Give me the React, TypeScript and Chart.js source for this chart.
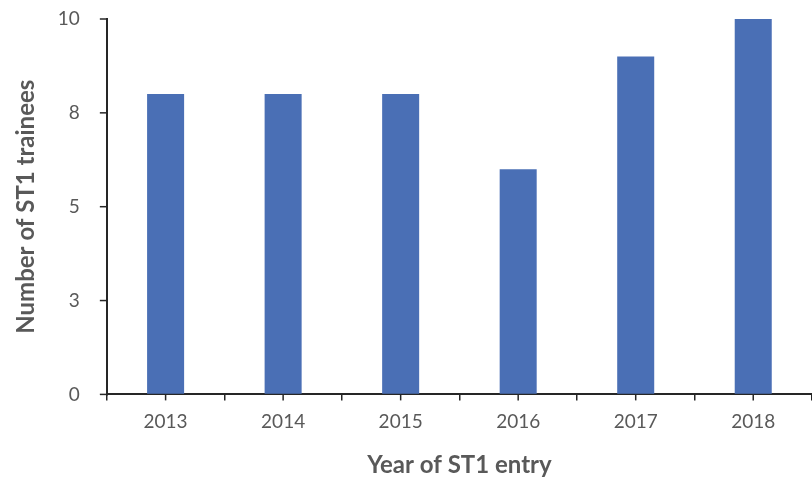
import React, { useEffect, useRef } from "react";
import { Chart, registerables } from "chart.js";

Chart.register(...registerables);

const categories = ["2013", "2014", "2015", "2016", "2017", "2018"];
const trainees = [8, 8, 8, 6, 9, 10];
const yMin = 0;
const yMax = 10;
const yStep = 2.5;

const axisColor = "#262626";
const textColor = "#595959";
const barColor = "#4a6fb5";
const fontFamily = "Lato, 'Open Sans', sans-serif";

const extraTicks = {
  id: "extraTicks",
  afterDraw(chart: any) {
    const x = chart.scales.x;
    const y = chart.scales.y;
    const ctx = chart.ctx;
    ctx.save();
    ctx.strokeStyle = axisColor;
    ctx.lineWidth = 1.5;
    // x-axis ticks at category centres
    for (let i = 0; i < categories.length; i++) {
      const px = x.getPixelForValue(i);
      ctx.beginPath();
      ctx.moveTo(px, x.top);
      ctx.lineTo(px, x.top + 6);
      ctx.stroke();
    }
    // y-axis outward tick marks
    for (const t of y.ticks) {
      const py = y.getPixelForValue(t.value);
      ctx.beginPath();
      ctx.moveTo(y.right - 7, py);
      ctx.lineTo(y.right, py);
      ctx.stroke();
    }
    ctx.restore();
  },
};

export default function App() {
  const ref = useRef<HTMLCanvasElement | null>(null);
  useEffect(() => {
    if (!ref.current) return;
    const chart = new Chart(ref.current, {
      type: "bar",
      data: {
        labels: categories,
        datasets: [
          {
            label: "Number of ST1 trainees",
            data: trainees,
            backgroundColor: barColor,
            barPercentage: 0.315,
            categoryPercentage: 1,
          },
        ],
      },
      options: {
        animation: false,
        responsive: true,
        maintainAspectRatio: false,
        layout: { padding: { top: 19, right: 0, bottom: 0, left: 12 } },
        plugins: { legend: { display: false }, tooltip: { enabled: false } },
        scales: {
          x: {
            offset: true,
            grid: {
              display: true,
              drawOnChartArea: false,
              drawTicks: true,
              tickLength: 6,
              offset: true,
              color: axisColor,
              lineWidth: 1.5,
            },
            border: { display: true, color: axisColor, width: 2 },
            ticks: {
              color: textColor,
              font: { family: fontFamily, size: 19 },
              padding: 10,
            },
            title: {
              display: true,
              text: "Year of ST1 entry",
              color: textColor,
              font: { family: fontFamily, size: 24, weight: "bold" },
              padding: { top: 8, bottom: 4 },
            },
          },
          y: {
            min: yMin,
            max: yMax,
            grid: {
              display: true,
              drawOnChartArea: false,
              drawTicks: true,
              tickLength: 27,
              tickColor: "rgba(0,0,0,0)",
              color: axisColor,
              lineWidth: 1.5,
            },
            border: { display: true, color: axisColor, width: 2 },
            ticks: {
              stepSize: yStep,
              color: textColor,
              font: { family: fontFamily, size: 19 },
              padding: 0,
              callback: (v: any) => String(Math.round(Number(v))),
            },
            title: {
              display: true,
              text: "Number of ST1 trainees",
              color: textColor,
              font: { family: fontFamily, size: 24, weight: "bold" },
              padding: { top: 0, bottom: 17 },
            },
          },
        },
      },
      plugins: [extraTicks],
    });
    return () => chart.destroy();
  }, []);
  return (
    <div style={{ position: "absolute", left: 0, top: 0, width: 812, height: 484, background: "#fff" }}>
      <canvas ref={ref} />
    </div>
  );
}
